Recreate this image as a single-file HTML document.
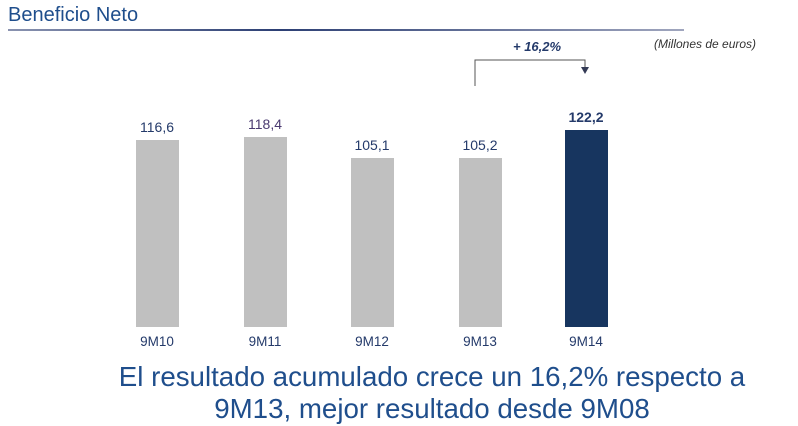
<!DOCTYPE html>
<html><head><meta charset="utf-8"><style>
html,body{margin:0;padding:0;background:#fff;}
body{width:798px;height:426px;position:relative;overflow:hidden;font-family:"Liberation Sans",Arial,sans-serif;}
.a{position:absolute;}
.bar{position:absolute;width:43px;background:#c0c0c0;bottom:99px;}
.v{position:absolute;width:80px;text-align:center;font-size:14px;color:#243a6a;}
.x{position:absolute;width:80px;text-align:center;font-size:13.5px;color:#243a6a;top:334px;}
</style></head><body>
<div class="a" style="left:8px;top:4px;font-size:20px;color:#1f4e8c;">Beneficio Neto</div>
<div class="a" style="left:8px;top:29px;width:676px;height:2px;background:linear-gradient(90deg,#8a93b0,#2c3f74 40%,#a0a6be);"></div>
<div class="a" style="left:654px;top:37px;font-size:12px;font-style:italic;color:#333;">(Millones de euros)</div>
<div class="a" style="left:513px;top:39px;font-size:13px;font-weight:bold;font-style:italic;color:#243a6a;">+ 16,2%</div>
<svg class="a" style="left:0;top:0" width="798" height="426">
<polyline points="475,86 475,60 585,60 585,68" fill="none" stroke="#555" stroke-width="1"/>
<polygon points="581,67 589,67 585,74" fill="#333a55"/>
</svg>
<div class="bar" style="left:136px;top:140px;"></div>
<div class="bar" style="left:244px;top:137px;"></div>
<div class="bar" style="left:351px;top:158px;"></div>
<div class="bar" style="left:459px;top:158px;"></div>
<div class="bar" style="left:565px;top:130px;background:#17355f;"></div>
<div class="v" style="left:117px;top:119px;">116,6</div>
<div class="v" style="left:225px;top:116px;color:#4a3a70;">118,4</div>
<div class="v" style="left:332px;top:137px;">105,1</div>
<div class="v" style="left:440px;top:137px;">105,2</div>
<div class="v" style="left:546px;top:109px;font-weight:bold;">122,2</div>
<div class="x" style="left:117px;">9M10</div>
<div class="x" style="left:225px;">9M11</div>
<div class="x" style="left:332px;">9M12</div>
<div class="x" style="left:440px;">9M13</div>
<div class="x" style="left:546px;">9M14</div>
<div class="a" style="left:32px;width:800px;top:361px;text-align:center;font-size:27.7px;line-height:32px;color:#1f4e8c;">El resultado acumulado crece un 16,2% respecto a<br>9M13, mejor resultado desde 9M08</div>
</body></html>
